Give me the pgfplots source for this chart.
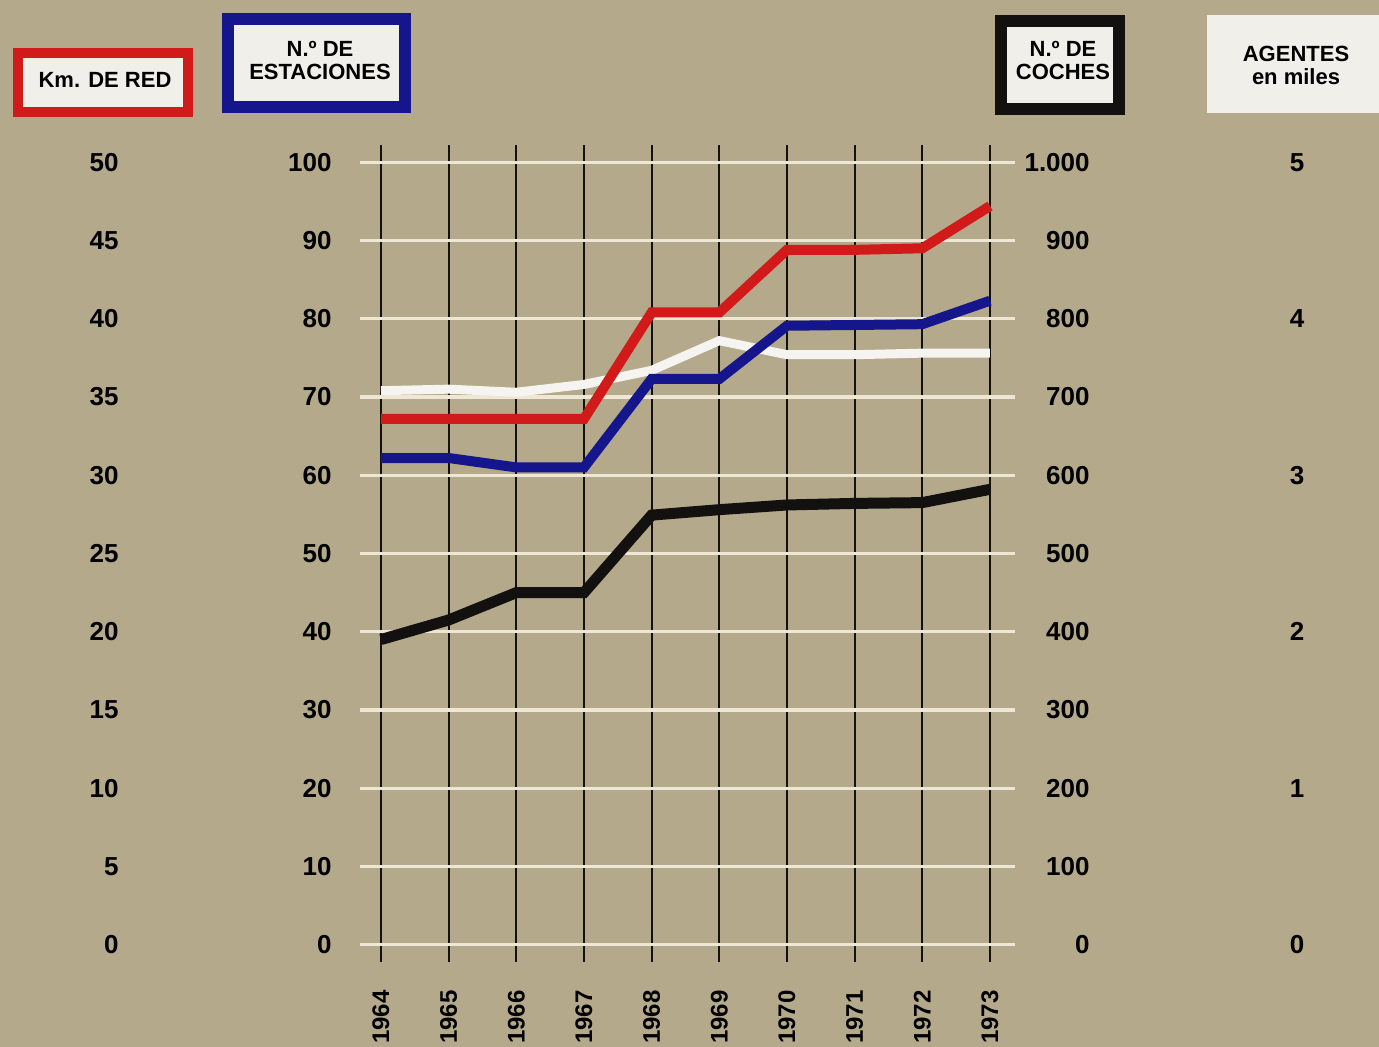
\documentclass[border=0pt]{standalone}
\usepackage{fontspec}
\setmainfont{Liberation Sans}
\usepackage{pgfplots}
\pgfplotsset{compat=1.18}
\definecolor{bg}{HTML}{B4A98A}
\definecolor{paper}{HTML}{F0EFEA}
\definecolor{gridc}{HTML}{EEE7D6}
\definecolor{lred}{HTML}{D21A1A}
\definecolor{lblue}{HTML}{16168C}
\definecolor{lwhite}{HTML}{F5F4F0}
\definecolor{lblack}{HTML}{121110}

\pgfplotsset{
  panel/.style={
    scale only axis, width=327.5pt, height=408.5pt,
    at={(180pt,42.5pt)}, anchor=south west,
    xmin=1963.69, xmax=1973.37,
    axis line style={draw=none},
    major tick length=0pt, minor tick length=0pt,
    tick style={draw=none},
    clip=false,
    /pgf/number format/assume math mode=true,
    yticklabel style={font=\fontsize{13}{13}\selectfont\bfseries, inner sep=0pt},
  },
}

\begin{document}
\begin{tikzpicture}[x=1pt,y=1pt]
\fill[bg] (0,0) rectangle (689.5,523.5);
\path[use as bounding box] (0,0) rectangle (689.5,523.5);

% agentes (en miles) -- also draws the grid and the years
\begin{axis}[panel,
  ymin=-0.11, ymax=5.11,
  ytick={0,...,5}, minor ytick={0.5,1.5,...,4.5},
  ymajorgrids, yminorgrids, xmajorgrids,
  y grid style={gridc, line width=1.7pt},
  x grid style={lblack, line width=1pt},
  xtick={1964,...,1973},
  x tick label style={/pgf/number format/1000 sep={}},
  xticklabel style={rotate=90, anchor=east, inner sep=0pt, xshift=-14pt,
    font=\fontsize{12}{12}\selectfont\bfseries},
  yticklabel pos=right,
  yticklabel style={anchor=center, xshift=141pt},
]
\addplot[lwhite, line width=4.5pt] coordinates {
  (1964,3.54) (1965,3.55) (1966,3.53) (1967,3.58) (1968,3.67)
  (1969,3.86) (1970,3.77) (1971,3.77) (1972,3.78) (1973,3.78)};
\end{axis}

% coches
\begin{axis}[panel,
  ymin=-22, ymax=1022, ytick={0,100,...,1000}, xtick=\empty,
  /pgf/number format/1000 sep={.},
  yticklabel pos=right,
  yticklabel style={anchor=east, xshift=37.5pt},
]
\addplot[lblack, line width=5.5pt] coordinates {
  (1964,390) (1965,415) (1966,450) (1967,450) (1968,549)
  (1969,556) (1970,562) (1971,564) (1972,565) (1973,582)};
\end{axis}

% estaciones
\begin{axis}[panel,
  ymin=-2.2, ymax=102.2, ytick={0,10,...,100}, xtick=\empty,
  yticklabel pos=left,
  yticklabel style={anchor=east, xshift=-14pt},
]
\addplot[lblue, line width=5pt] coordinates {
  (1964,62.2) (1965,62.2) (1966,61.0) (1967,61.0) (1968,72.3)
  (1969,72.3) (1970,79.1) (1971,79.2) (1972,79.3) (1973,82.3)};
\end{axis}

% km de red
\begin{axis}[panel,
  ymin=-1.1, ymax=51.1, ytick={0,5,...,50}, xtick=\empty,
  yticklabel pos=left,
  yticklabel style={anchor=east, xshift=-120.5pt},
]
\addplot[lred, line width=5pt] coordinates {
  (1964,33.6) (1965,33.6) (1966,33.6) (1967,33.6) (1968,40.4)
  (1969,40.4) (1970,44.4) (1971,44.4) (1972,44.5) (1973,47.2)};
\end{axis}

% header boxes
\draw[lred, line width=5pt, fill=paper] (9,467.5) rectangle (94,497);
\draw[lblue, line width=6pt, fill=paper] (114,470) rectangle (202.5,514);
\draw[lblack, line width=6pt, fill=paper] (500.5,469) rectangle (559.5,513);
\fill[paper] (603.5,467) rectangle (690,516);
\begin{scope}[every node/.style={align=center, inner sep=0pt,
    font=\fontsize{11}{11.5}\selectfont\bfseries}]
\node at (52.5,483.5) {Km. DE RED};
\node at (160,493) {N.º DE\\ESTACIONES};
\node at (531.5,493) {N.º DE\\COCHES};
\node at (648,491) {AGENTES\\en miles};
\end{scope}
\end{tikzpicture}
\end{document}
